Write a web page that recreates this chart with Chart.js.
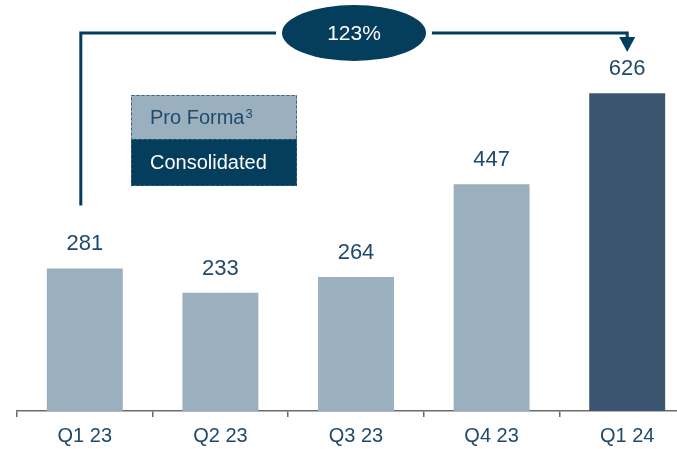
<!DOCTYPE html>
<html>
<head>
<meta charset="utf-8">
<script src="https://cdn.jsdelivr.net/npm/chart.js@4"></script>
<style>
  html, body { margin: 0; padding: 0; background: #fff; overflow: hidden; }
  #wrap { width: 695px; height: 449px; }
</style>
</head>
<body>
<div id="wrap"><canvas id="chart" width="695" height="449"></canvas></div>
<script>
const quarters = ['Q1 23', 'Q2 23', 'Q3 23', 'Q4 23', 'Q1 24'];
const revenue = [281, 233, 264, 447, 626];
const legendNames = ['Pro Forma', 'Consolidated'];
const growthText = '123%';

const LIGHT = '#9bb0be';
const DARK = '#3b5571';
const NAVY = '#053d5c';
const TEXT = '#1f4a6b';
const FONT = '"Liberation Sans", Arial, sans-serif';

// value labels, growth bracket and the little legend box
const extras = {
    id: 'extras',
    afterDatasetsDraw(chart) {
        const ctx = chart.ctx;
        const meta = chart.getDatasetMeta(0);
        ctx.save();
        ctx.font = '22px ' + FONT;
        ctx.fillStyle = TEXT;
        ctx.textAlign = 'center';
        ctx.textBaseline = 'middle';
        meta.data.forEach((bar, i) => {
            ctx.fillText(String(revenue[i]), bar.x, bar.y - 24);
        });

        // bracket from first to last quarter
        const first = meta.data[0];
        const last = meta.data[meta.data.length - 1];
        const x0 = first.x - 4;
        const x1 = last.x;
        const lineY = 33;
        ctx.strokeStyle = NAVY;
        ctx.lineWidth = 3;
        ctx.beginPath();
        ctx.moveTo(x0, first.y - 63);
        ctx.lineTo(x0, lineY);
        ctx.lineTo(x1, lineY);
        ctx.lineTo(x1, 40);
        ctx.stroke();
        ctx.fillStyle = NAVY;
        ctx.beginPath();
        ctx.moveTo(x1 - 8, 37);
        ctx.lineTo(x1 + 8, 37);
        ctx.lineTo(x1, 52);
        ctx.closePath();
        ctx.fill();

        // oval with growth figure
        const cx = (x0 + x1) / 2;
        ctx.fillStyle = '#fff';
        ctx.beginPath();
        ctx.ellipse(cx, lineY, 78, 31, 0, 0, Math.PI * 2);
        ctx.fill();
        ctx.fillStyle = NAVY;
        ctx.beginPath();
        ctx.ellipse(cx, lineY, 72, 28, 0, 0, Math.PI * 2);
        ctx.fill();
        ctx.fillStyle = '#fff';
        ctx.font = '21px ' + FONT;
        ctx.fillText(growthText, cx, lineY + 1);

        // legend box
        const lx = 131, ly = 95, lw = 166, rowH = [44, 47];
        ctx.fillStyle = LIGHT;
        ctx.fillRect(lx, ly, lw, rowH[0]);
        ctx.fillStyle = NAVY;
        ctx.fillRect(lx, ly + rowH[0], lw, rowH[1]);
        ctx.setLineDash([3, 2]);
        ctx.lineWidth = 1;
        ctx.strokeStyle = '#3c6280';
        ctx.strokeRect(lx + 0.5, ly + 0.5, lw - 1, rowH[0] + rowH[1] - 1);
        ctx.beginPath();
        ctx.moveTo(lx, ly + rowH[0] + 0.5);
        ctx.lineTo(lx + lw, ly + rowH[0] + 0.5);
        ctx.stroke();
        ctx.setLineDash([]);
        ctx.textAlign = 'left';
        ctx.font = '20px ' + FONT;
        ctx.fillStyle = TEXT;
        ctx.fillText(legendNames[0], lx + 19, ly + 23);
        const w = ctx.measureText(legendNames[0]).width;
        ctx.font = '13px ' + FONT;
        ctx.fillText('3', lx + 20 + w, ly + 19);
        ctx.font = '20px ' + FONT;
        ctx.fillStyle = '#fff';
        ctx.fillText(legendNames[1], lx + 19, ly + rowH[0] + 24);
        ctx.restore();
    }
};

const ctx = document.getElementById('chart').getContext('2d');
new Chart(ctx, {
    type: 'bar',
    data: {
        labels: quarters,
        datasets: [{
            data: revenue,
            backgroundColor: revenue.map((v, i) => i === revenue.length - 1 ? DARK : LIGHT),
            borderWidth: 0,
            barPercentage: 0.56,
            categoryPercentage: 1
        }]
    },
    options: {
        responsive: false,
        animation: false,
        layout: { padding: { top: 5, left: 17, right: 0, bottom: 0 } },
        plugins: { legend: { display: false }, tooltip: { enabled: false } },
        scales: {
            x: {
                afterFit(scale) { scale.height = 38; },
                border: { display: true, color: '#6b6b6b', width: 1.5 },
                grid: { drawOnChartArea: false, drawTicks: true, tickLength: 6, color: '#6b6b6b', lineWidth: 1.5 },
                ticks: { color: TEXT, font: { family: FONT, size: 20 }, padding: 7 }
            },
            y: { display: false, min: 0, max: 800 }
        }
    },
    plugins: [extras]
});
</script>
</body>
</html>
